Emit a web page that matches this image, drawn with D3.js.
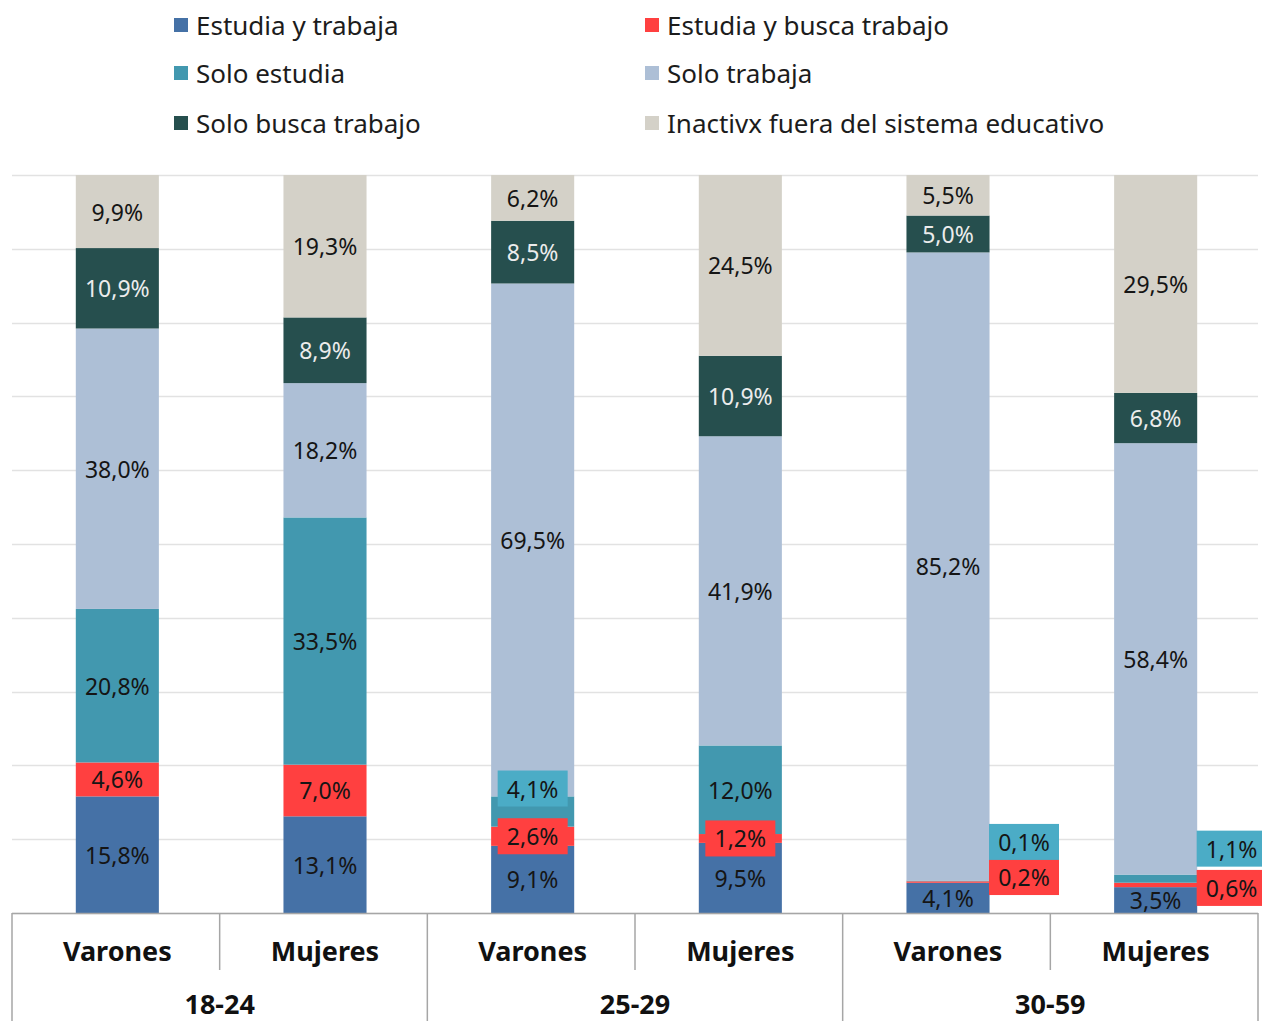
<!DOCTYPE html>
<html>
<head>
<meta charset="utf-8">
<script src="https://cdn.jsdelivr.net/npm/d3@7"></script>
<style>
  body { margin: 0; background: #fff; }
  svg { display: block; font-family: "Noto Sans", sans-serif; }
</style>
</head>
<body>
<div id="chart"></div>
<script>
// categories
const groups = ["18-24", "25-29", "30-59"];
const sexes = ["Varones", "Mujeres"];
const barIds = ["18-24 Varones", "18-24 Mujeres", "25-29 Varones", "25-29 Mujeres", "30-59 Varones", "30-59 Mujeres"];

// series (bottom to top), % values per bar
const seriesNames = ["Estudia y trabaja", "Estudia y busca trabajo", "Solo estudia", "Solo trabaja", "Solo busca trabajo", "Inactivx fuera del sistema educativo"];
const estudiaTrabaja = [15.8, 13.1, 9.1, 9.5, 4.1, 3.5];
const estudiaBusca   = [4.6, 7.0, 2.6, 1.2, 0.2, 0.6];
const soloEstudia    = [20.8, 33.5, 4.1, 12.0, 0.1, 1.1];
const soloTrabaja    = [38.0, 18.2, 69.5, 41.9, 85.2, 58.4];
const soloBusca      = [10.9, 8.9, 8.5, 10.9, 5.0, 6.8];
const inactivx       = [9.9, 19.3, 6.2, 24.5, 5.5, 29.5];

const colors = ["#4571a6", "#ff4040", "#4298af", "#adbfd6", "#264f4e", "#d4d1c8"];
const textColors = ["#151515", "#151515", "#151515", "#151515", "#ececec", "#151515"];

// manual label nudges (series index|bar index) as in the original
const labelTweaks = {
  "2|2": { dx: 0, dy: -23, box: "#4bacc6" },
  "1|2": { dx: 0, dy: 0, box: "#ff4040" },
  "1|3": { dx: 0, dy: 0, box: "#ff4040" },
  "2|4": { dx: 76, dy: -39, box: "#4bacc6" },
  "1|4": { dx: 76, dy: -5, box: "#ff4040" },
  "2|5": { dx: 76, dy: -30, box: "#4bacc6" },
  "1|5": { dx: 76, dy: 3, box: "#ff4040" }
};

const allSeries = [estudiaTrabaja, estudiaBusca, soloEstudia, soloTrabaja, soloBusca, inactivx];
const rows = barIds.map((id, i) => {
  const r = { id };
  seriesNames.forEach((s, k) => { r[s] = allSeries[k][i]; });
  return r;
});

const W = 1262, H = 1021;
const plotLeft = 12, plotRight = 1258, plotTop = 175, plotBottom = 913;

const svg = d3.select("#chart").append("svg")
  .attr("width", W).attr("height", H);

const x = d3.scaleBand().domain(barIds).range([plotLeft + 1.5, plotRight + 1.5])
  .paddingInner(0.6).paddingOuter(0.3);
const y = d3.scaleLinear().domain([0, 1]).range([plotBottom, plotTop]);

// gridlines
svg.append("g").selectAll("line")
  .data(d3.range(0, 1.01, 0.1))
  .join("line")
  .attr("x1", plotLeft).attr("x2", plotRight)
  .attr("y1", d => Math.round(y(d)) + 0.5).attr("y2", d => Math.round(y(d)) + 0.5)
  .attr("stroke", "#e2e2e2").attr("stroke-width", 1.5);

const stacked = d3.stack().keys(seriesNames).offset(d3.stackOffsetExpand)(rows);

const layers = svg.append("g").selectAll("g")
  .data(stacked)
  .join("g")
  .attr("fill", (d, k) => colors[k]);

layers.selectAll("rect")
  .data(d => d)
  .join("rect")
  .attr("x", d => x(d.data.id))
  .attr("width", x.bandwidth())
  .attr("y", d => y(d[1]))
  .attr("height", d => y(d[0]) - y(d[1]));

// data labels
const fmt = v => v.toFixed(1).replace(".", ",") + "%";
const labelG = svg.append("g").attr("font-size", 23);
stacked.forEach((layer, k) => {
  layer.forEach((d, i) => {
    const tw = labelTweaks[k + "|" + i] || { dx: 0, dy: 0 };
    const cx = x(d.data.id) + x.bandwidth() / 2 + tw.dx;
    const cy = (y(d[0]) + y(d[1])) / 2 + tw.dy;
    if (tw.box) {
      labelG.append("rect")
        .attr("x", cx - 35).attr("y", cy - 18)
        .attr("width", 70).attr("height", 36)
        .attr("fill", tw.box);
    }
    labelG.append("text")
      .attr("x", cx).attr("y", cy)
      .attr("text-anchor", "middle")
      .attr("dominant-baseline", "central")
      .attr("fill", textColors[k])
      .text(fmt(allSeries[k][i]));
  });
});

// category axis (two rows)
const axisG = svg.append("g").attr("stroke", "#a6a6a6").attr("stroke-width", 1.5);
axisG.append("line").attr("x1", plotLeft).attr("x2", plotRight).attr("y1", plotBottom + 0.5).attr("y2", plotBottom + 0.5);
const step = (plotRight - plotLeft) / barIds.length;
barIds.forEach((id, i) => {
  const xe = plotLeft + step * i;
  const full = i % 2 === 0;
  axisG.append("line")
    .attr("x1", xe).attr("x2", xe)
    .attr("y1", plotBottom).attr("y2", full ? H : 970);
});
axisG.append("line").attr("x1", plotRight).attr("x2", plotRight).attr("y1", plotBottom).attr("y2", H);

svg.append("g").selectAll("text")
  .data(barIds)
  .join("text")
  .attr("x", d => x(d) + x.bandwidth() / 2)
  .attr("y", 950)
  .attr("text-anchor", "middle")
  .attr("dominant-baseline", "central")
  .attr("font-size", 27).attr("font-weight", 700).attr("fill", "#111")
  .text((d, i) => sexes[i % 2]);

svg.append("g").selectAll("text")
  .data(groups)
  .join("text")
  .attr("x", (d, j) => plotLeft + step * (2 * j + 1))
  .attr("y", 1003)
  .attr("text-anchor", "middle")
  .attr("dominant-baseline", "central")
  .attr("font-size", 27).attr("font-weight", 700).attr("fill", "#111")
  .text(d => d);

// legend: 2 columns, 3 rows
const legendOrder = [0, 1, 2, 3, 4, 5];
const legend = svg.append("g").selectAll("g")
  .data(legendOrder)
  .join("g")
  .attr("transform", (k, n) => `translate(${n % 2 === 0 ? 174 : 645},${[25, 73, 123][Math.floor(n / 2)]})`);
legend.append("rect")
  .attr("x", 0).attr("y", -7).attr("width", 14).attr("height", 14)
  .attr("fill", k => colors[k]);
legend.append("text")
  .attr("x", 22).attr("y", 0)
  .attr("dominant-baseline", "central")
  .attr("font-size", 26).attr("fill", "#1c1c1c")
  .text(k => seriesNames[k]);
</script>
</body>
</html>
